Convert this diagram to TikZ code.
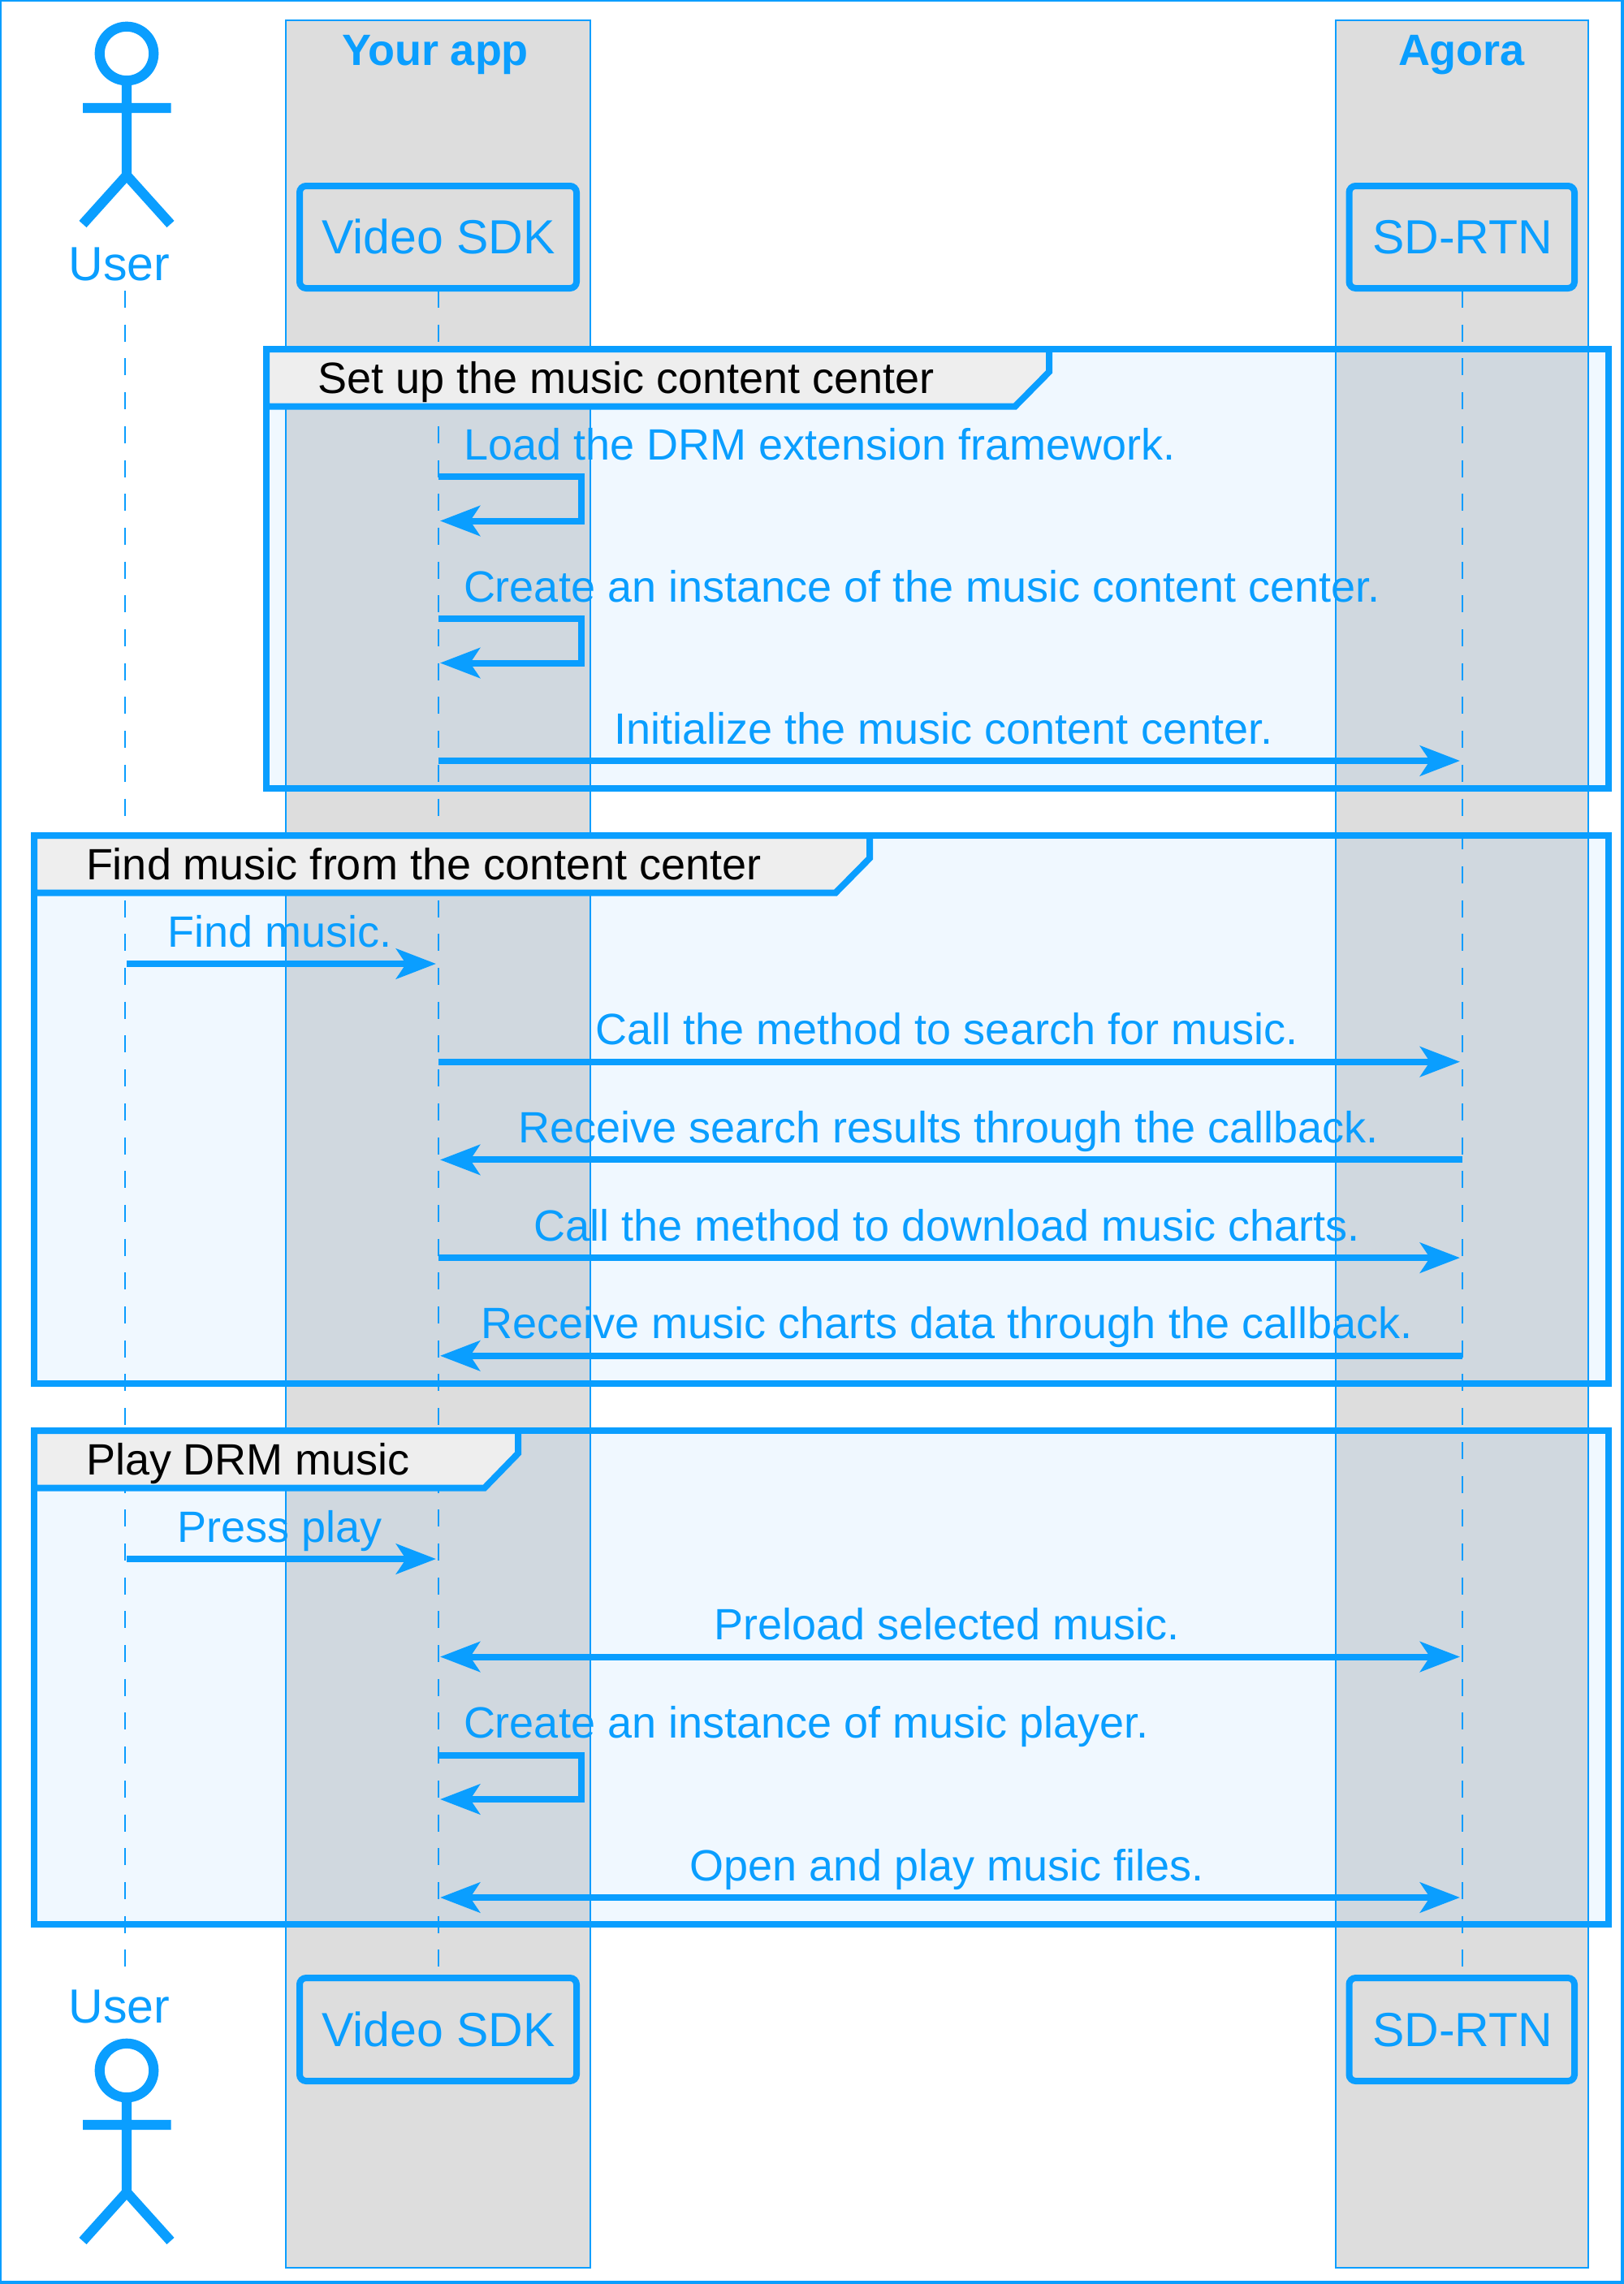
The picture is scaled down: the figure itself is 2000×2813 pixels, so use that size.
\documentclass[tikz,border=0pt]{standalone}
\usepackage{fontspec}
\setmainfont{Liberation Sans}
\usetikzlibrary{arrows.meta}
\definecolor{ag}{HTML}{0A9EFF}
\definecolor{gfill}{HTML}{008AFF}
\definecolor{boxgray}{HTML}{DDDDDD}
\definecolor{tabgray}{HTML}{EEEEEE}
\tikzset{
  x=0.5pt,y=-0.5pt,
  txt/.style={inner sep=0pt,outer sep=0pt,text=ag,font=\fontsize{27}{30}\selectfont},
  msgl/.style={txt,anchor=base west},
  msgc/.style={txt,anchor=base},
  ptxt/.style={inner sep=0pt,outer sep=0pt,text=ag,font=\fontsize{29.5}{32}\selectfont,anchor=base},
  grouplabel/.style={inner sep=0pt,outer sep=0pt,text=black,font=\fontsize{27}{30}\selectfont,anchor=base west},
  boxtitle/.style={inner sep=0pt,outer sep=0pt,text=ag,font=\bfseries\fontsize{27}{30}\selectfont,anchor=base},
  partbox/.style={draw=ag,line width=1pt,fill=boxgray},
  part/.style={draw=ag,line width=4pt,rounded corners=4pt},
  life/.style={draw=ag,line width=1pt,dash pattern=on 10.5pt off 10.35pt},
  limb/.style={draw=ag,line width=6.1pt},
  head/.style={circle,draw=ag,line width=6.1pt,inner sep=0pt,outer sep=0pt,minimum size=33.25pt},
  grp/.style={draw=ag,line width=4pt,line join=miter},
  grpfill/.style={fill=gfill,fill opacity=0.06},
  tab/.style={fill=tabgray,draw=ag,line width=4pt,line join=miter},
  tipm/.tip={Stealth[length=24.5pt,width=18.5pt,inset=6pt]},
  msg/.style={draw=ag,line width=4pt,-tipm},
  msgb/.style={draw=ag,line width=4pt,tipm-tipm},
  loopm/.style={draw=ag,line width=4pt,line join=miter,-tipm},
}
\begin{document}
\begin{tikzpicture}
\useasboundingbox (0,0) rectangle (2000,2813);
\fill[white] (0,0) rectangle (2000,2813);
% participant boxes
\draw[partbox] (352,25) rectangle (727,2793);
\draw[partbox] (1645,25) rectangle (1955.5,2793);
\node[boxtitle] (tapp) at (536,80) {Your app};
\node[boxtitle] (tag) at (1800,80) {Agora};
% lifeline ends
\coordinate (ut) at (154,358);
\coordinate (ub) at (154,2422.5);
\coordinate (vt) at (540,358);
\coordinate (vb) at (540,2422.5);
\coordinate (st) at (1800.5,358);
\coordinate (sb) at (1800.5,2422.5);
\draw[life] (ut) -- (ub);
\draw[life] (vt) -- (vb);
\draw[life] (st) -- (sb);
% participants
\draw[part] (369,229) rectangle (710,355);
\draw[part] (1661.5,229) rectangle (1939,355);
\draw[part] (369,2436) rectangle (710,2563);
\draw[part] (1661.5,2436) rectangle (1939,2563);
\node[ptxt] (vsdk) at (540,312) {Video SDK};
\node[ptxt] (srtn) at (1801,312) {SD-RTN};
\node[ptxt] (vsdk2) at (540,2520.5) {Video SDK};
\node[ptxt] (srtn2) at (1801,2520.5) {SD-RTN};
% actors
\node[ptxt] (user) at (147,345) {User};
\node[ptxt] (user2) at (147,2491) {User};
\node[head] (h1) at (156,66) {};
\coordinate (b1) at (156,216);
\coordinate (al1) at (102,133);
\coordinate (ar1) at (210.5,133);
\coordinate (ll1) at (102,276);
\coordinate (lr1) at (210,276);
\draw[limb] (h1) -- (b1) (al1) -- (ar1) (ll1) -- (b1) -- (lr1);
\node[head] (h2) at (156,2550) {};
\coordinate (b2) at (156,2700);
\coordinate (al2) at (102,2617);
\coordinate (ar2) at (210.5,2617);
\coordinate (ll2) at (102,2760);
\coordinate (lr2) at (210,2760);
\draw[limb] (h2) -- (b2) (al2) -- (ar2) (ll2) -- (b2) -- (lr2);
% groups
\fill[grpfill] (328,430) rectangle (1981,971);
\fill[grpfill] (42,1029) rectangle (1981,1704);
\fill[grpfill] (42,1762) rectangle (1981,2370);
\draw[tab] (328,430) -- (1292,430) -- (1292,458) -- (1250,500.6) -- (328,500.6) -- cycle;
\draw[tab] (42,1029) -- (1071,1029) -- (1071,1057) -- (1029,1099.6) -- (42,1099.6) -- cycle;
\draw[tab] (42,1762) -- (638,1762) -- (638,1790) -- (596.6,1832.6) -- (42,1832.6) -- cycle;
\draw[grp] (328,430) rectangle (1981,971);
\draw[grp] (42,1029) rectangle (1981,1704);
\draw[grp] (42,1762) rectangle (1981,2370);
\node[grouplabel] (g1) at (391,484) {Set up the music content center};
\node[grouplabel] (g2) at (106,1083) {Find music from the content center};
\node[grouplabel] (g3) at (106,1816) {Play DRM music};
% messages
\coordinate (a1) at (540,587); \coordinate (a1r) at (716,587); \coordinate (a1s) at (716,641.5); \coordinate (a1e) at (542,641.5);
\draw[loopm] (a1) -- (a1r) -- (a1s) -- (a1e);
\node[msgl] (m1) at (571,566) {Load the DRM extension framework.};
\coordinate (a2) at (540,762); \coordinate (a2r) at (716,762); \coordinate (a2s) at (716,816.5); \coordinate (a2e) at (542,816.5);
\draw[loopm] (a2) -- (a2r) -- (a2s) -- (a2e);
\node[msgl] (m2) at (571,741) {Create an instance of the music content center.};
\coordinate (a3) at (540,937); \coordinate (a3e) at (1798,937);
\draw[msg] (a3) -- (a3e);
\node[msgc] (m3) at (1162,916) {Initialize the music content center.};
\coordinate (a4) at (156,1187); \coordinate (a4e) at (537,1187);
\draw[msg] (a4) -- (a4e);
\node[msgc] (m4) at (345,1166) {Find music.};
\coordinate (a5) at (540,1307.7); \coordinate (a5e) at (1798,1307.7);
\draw[msg] (a5) -- (a5e);
\node[msgc] (m5) at (1166,1286.7) {Call the method to search for music.};
\coordinate (a6) at (1800.5,1428.4); \coordinate (a6e) at (542,1428.4);
\draw[msg] (a6) -- (a6e);
\node[msgc] (m6) at (1168,1407.4) {Receive search results through the callback.};
\coordinate (a7) at (540,1549.1); \coordinate (a7e) at (1798,1549.1);
\draw[msg] (a7) -- (a7e);
\node[msgc] (m7) at (1166,1528.1) {Call the method to download music charts.};
\coordinate (a8) at (1800.5,1669.8); \coordinate (a8e) at (542,1669.8);
\draw[msg] (a8) -- (a8e);
\node[msgc] (m8) at (1166,1648.8) {Receive music charts data through the callback.};
\coordinate (a9) at (156,1920); \coordinate (a9e) at (537,1920);
\draw[msg] (a9) -- (a9e);
\node[msgc] (m9) at (345,1899) {Press play};
\coordinate (a10) at (542,2040.5); \coordinate (a10e) at (1798,2040.5);
\draw[msgb] (a10) -- (a10e);
\node[msgc] (m10) at (1166,2019.5) {Preload selected music.};
\coordinate (a11) at (540,2161.5); \coordinate (a11r) at (716,2161.5); \coordinate (a11s) at (716,2216); \coordinate (a11e) at (542,2216);
\draw[loopm] (a11) -- (a11r) -- (a11s) -- (a11e);
\node[msgl] (m11) at (571,2140.5) {Create an instance of music player.};
\coordinate (a12) at (542,2337); \coordinate (a12e) at (1798,2337);
\draw[msgb] (a12) -- (a12e);
\node[msgc] (m12) at (1166,2316) {Open and play music files.};
% outer frame
\draw[draw=ag,line width=2pt] (0,0) rectangle (1998,2811);
\end{tikzpicture}
\end{document}
